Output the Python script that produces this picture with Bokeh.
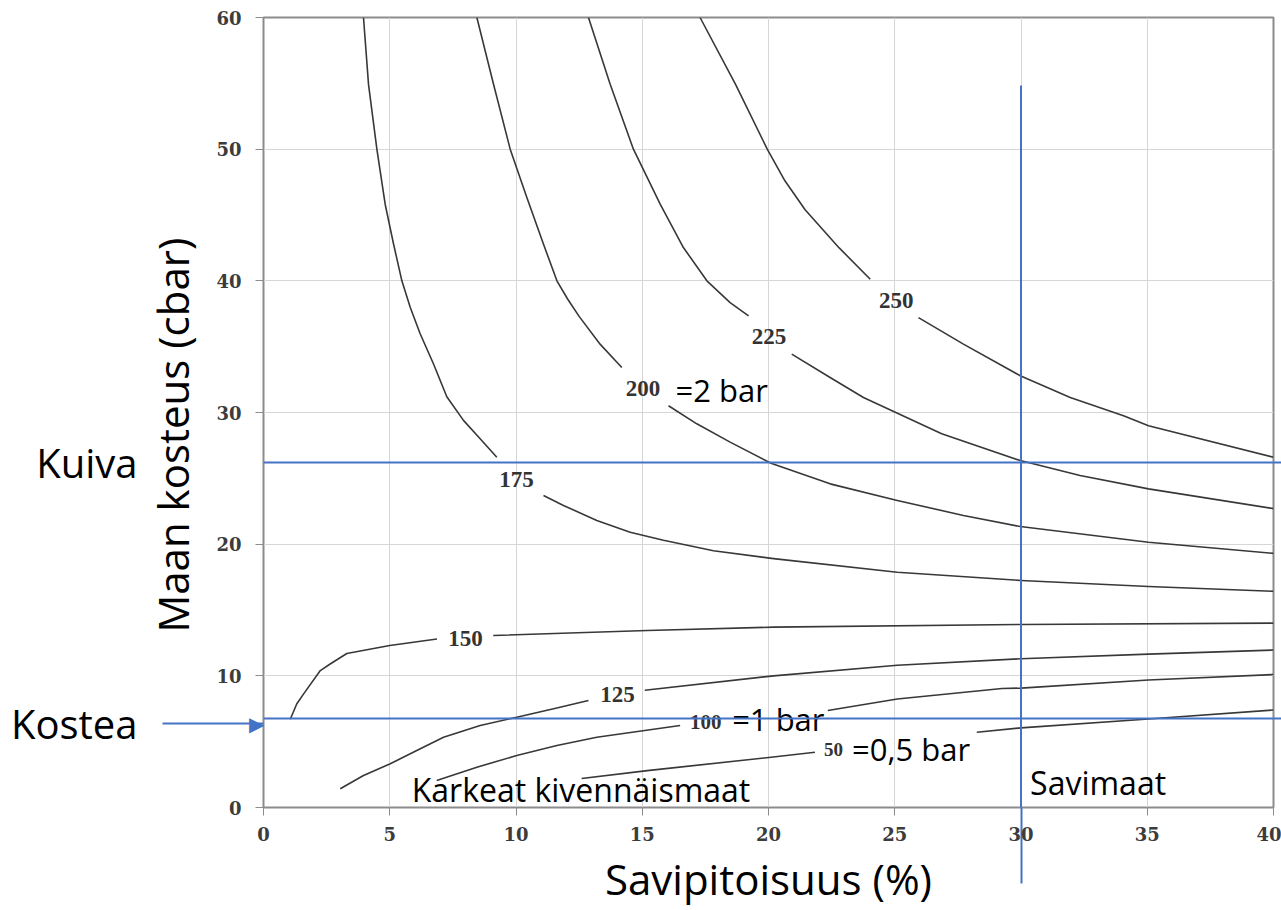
import math
from bokeh.plotting import figure
from bokeh.models import (Range1d, FixedTicker, Label, Arrow, ColumnDataSource,
                          Span, Title, LinearAxis)
from bokeh.core.properties import value
from bokeh.embed import file_html
from bokeh.resources import INLINE

NAN = float("nan")

# ---------------- data ----------------
x_ticks = [0, 5, 10, 15, 20, 25, 30, 35, 40]
y_ticks = [0, 10, 20, 30, 40, 50, 60]

# contour curves (NaN = gap where the level label sits)
c250_x = [17.29, 18.7, 19.95, 20.65, 21.45, 22.8, 24.03, NAN,
          25.94, 27.72, 29.97, 31.95, 34.06, 35.05, 40.0]
c250_y = [60.0, 54.9, 50.0, 47.6, 45.4, 42.5, 40.12, NAN,
          37.21, 35.19, 32.79, 31.14, 29.75, 29.0, 26.6]

c225_x = [12.87, 13.73, 14.65, 15.71, 16.63, 17.56, 18.48, 19.21, NAN,
          20.92, 22.44, 23.76, 26.86, 29.97, 32.34, 35.05, 40.0]
c225_y = [60.0, 54.93, 50.0, 45.82, 42.53, 40.0, 38.35, 37.34, NAN,
          34.43, 32.66, 31.14, 28.38, 26.35, 25.21, 24.2, 22.7]

c200_x = [8.45, 9.11, 9.77, 10.43, 11.09, 11.62, 12.05, 12.5, 13.33, 14.19, NAN,
          16.04, 17.16, 18.48, 20.1, 22.44, 25.1, 27.72, 29.97, 35.05, 40.0]
c200_y = [60.0, 54.93, 50.0, 46.33, 42.78, 40.0, 38.6, 37.3, 35.19, 33.42, NAN,
          30.51, 29.14, 27.75, 26.15, 24.58, 23.32, 22.18, 21.34, 20.15, 19.3]

c175_x = [3.96, 4.16, 4.49, 4.82, 5.15, 5.48, 5.81, 6.2, 6.73, 7.26, 7.92, 8.58, 9.24, NAN,
          11.09, 11.88, 13.2, 14.52, 15.84, 17.82, 20.2, 25.1, 30.0, 35.05, 40.0]
c175_y = [60.0, 54.9, 50.0, 45.8, 42.8, 40.0, 38.0, 36.0, 33.7, 31.2, 29.4, 28.0, 26.6, NAN,
          23.7, 22.94, 21.8, 20.9, 20.3, 19.5, 18.9, 17.87, 17.24, 16.78, 16.42]

c150_x = [1.06, 1.32, 1.59, 2.25, 2.64, 3.3, 5.0, 6.87, NAN, 9.1, 15.2, 20.2, 30.0, 40.0]
c150_y = [6.7, 7.88, 8.63, 10.4, 10.9, 11.7, 12.3, 12.8, NAN, 13.06, 13.44, 13.7, 13.9, 14.0]

c125_x = [3.04, 3.96, 5.02, 6.07, 7.13, 8.58, 10.03, 11.49, 12.87, NAN,
          15.1, 20.2, 25.1, 30.0, 35.05, 40.0]
c125_y = [1.42, 2.43, 3.32, 4.33, 5.34, 6.23, 6.86, 7.5, 8.13, NAN,
          8.9, 10.0, 10.8, 11.3, 11.65, 11.96]

c100_x = [6.86, 8.45, 10.03, 11.62, 13.2, 16.5, NAN, 22.35, 25.1, 29.25, 30.0, 35.05, 40.0]
c100_y = [2.05, 3.06, 3.95, 4.71, 5.34, 6.23, NAN, 7.37, 8.24, 9.04, 9.07, 9.68, 10.1]

c50_x = [12.6, 15.2, 20.1, 21.84, NAN, 28.25, 30.0, 35.05, 40.0]
c50_y = [2.2, 2.8, 3.82, 4.2, NAN, 5.72, 6.05, 6.72, 7.4]

levels = ["250", "225", "200", "175", "150", "125", "100", "50"]
level_x = [25.06, 20.02, 15.03, 10.02, 8.0, 14.02, 17.51, 22.57]
level_y = [38.48, 35.78, 31.8, 24.9, 12.86, 8.58, 6.48, 4.37]

kuiva_level = 26.2     # cbar
kostea_level = 6.76    # cbar
kostea_arrow = 6.35    # cbar
savi_limit = 30.0      # % clay
savi_top = 54.83

# ---------------- figure ----------------
BLUE = "#4472C4"
GRID = "#d6d6d6"
FRAME = "#8c8c8c"
CURVE = "#383838"
TICKLAB = "#3c3c3c"

p = figure(width=1281, height=910, output_backend="svg", toolbar_location=None,
           x_range=Range1d(0, 40), y_range=Range1d(0, 60),
           min_border_left=263, min_border_right=8, min_border_top=17, min_border_bottom=103)
p.background_fill_color = "white"
p.border_fill_color = "white"
p.outline_line_color = FRAME
p.outline_line_width = 2

# ---- x axis (blue marker below the frame drawn as a minor tick) ----
xax = p.xaxis[0]
xax.ticker = FixedTicker(ticks=x_ticks, minor_ticks=[savi_limit])
xax.major_tick_in = 0
xax.major_tick_out = 8
xax.major_tick_line_color = FRAME
xax.minor_tick_in = 0
xax.minor_tick_out = 76
xax.minor_tick_line_color = BLUE
xax.minor_tick_line_width = 2
xax.axis_line_color = FRAME
xax.major_label_text_font = "DejaVu Serif"
xax.major_label_text_font_style = "bold"
xax.major_label_text_font_size = "18px"
xax.major_label_text_color = TICKLAB
xax.major_label_standoff = 11 - (76 - 8)
xax.axis_label = "Savipitoisuus (%)"
xax.axis_label_text_font = "Open Sans"
xax.axis_label_text_font_size = "42px"
xax.axis_label_text_font_style = "normal"
xax.axis_label_text_color = "black"
xax.axis_label_standoff = 6

# ---- inner y axis: tick marks, Kostea arrow shaft (minor tick) and arrow head ----
yax = p.yaxis[0]
yax.ticker = FixedTicker(ticks=y_ticks + [kostea_arrow], minor_ticks=[kostea_arrow])
overrides = {t: "" for t in y_ticks}
overrides[kostea_arrow] = "\u25B6"
yax.major_label_overrides = overrides
yax.major_tick_in = 0
yax.major_tick_out = 8
yax.major_tick_line_color = FRAME
yax.minor_tick_in = 0
yax.minor_tick_out = 101
yax.minor_tick_line_color = BLUE
yax.minor_tick_line_width = 2
yax.axis_line_color = FRAME
yax.major_label_text_font = "DejaVu Sans"
yax.major_label_text_font_size = "20px"
yax.major_label_text_color = BLUE
yax.major_label_standoff = -102

# ---- y tick labels ----
ylab_axis = LinearAxis(ticker=FixedTicker(ticks=y_ticks), axis_line_color=None,
                       major_tick_line_color=None, minor_tick_line_color=None,
                       major_tick_out=0, major_tick_in=0, major_label_standoff=5,
                       major_label_text_font="DejaVu Serif", major_label_text_font_style="bold",
                       major_label_text_font_size="18px", major_label_text_color=TICKLAB)
p.add_layout(ylab_axis, "left")

p.add_layout(Title(text="Maan kosteus (cbar)", align="left", offset=175, standoff=25,
                   text_font="Open Sans", text_font_size="42px", text_font_style="normal",
                   text_color="black"), "left")

side_axis = LinearAxis(ticker=FixedTicker(ticks=[kostea_arrow, kuiva_level]),
                       major_label_overrides={kostea_arrow: "Kostea", kuiva_level: "Kuiva"},
                       axis_line_color=None, major_tick_line_color=None,
                       minor_tick_line_color=None, major_tick_out=0, major_tick_in=0,
                       major_label_standoff=-8, major_label_text_font="Open Sans",
                       major_label_text_font_size="40px", major_label_text_color="black")
p.add_layout(side_axis, "left")

right_axis = LinearAxis(ticker=FixedTicker(ticks=[], minor_ticks=[kostea_level, kuiva_level]),
                        axis_line_color=None, major_tick_line_color=None,
                        major_tick_out=0, major_tick_in=0, major_label_standoff=0,
                        minor_tick_in=0, minor_tick_out=8, minor_tick_line_color=BLUE,
                        minor_tick_line_width=2, major_label_text_font_size="1px")
p.add_layout(right_axis, "right")

p.xgrid.ticker = FixedTicker(ticks=x_ticks)
p.ygrid.ticker = FixedTicker(ticks=y_ticks)
p.xgrid.grid_line_color = GRID
p.ygrid.grid_line_color = GRID

for xs, ys in ((c250_x, c250_y), (c225_x, c225_y), (c200_x, c200_y), (c175_x, c175_y),
               (c150_x, c150_y), (c125_x, c125_y), (c100_x, c100_y), (c50_x, c50_y)):
    p.line(xs, ys, line_color=CURVE, line_width=1.6, line_join="round")

lab_src = ColumnDataSource(dict(x=level_x, y=level_y, t=levels,
                                s=["23px"] * 6 + ["21px", "19px"]))
p.text(x="x", y="y", text="t", source=lab_src, text_font=value("Liberation Serif"),
       text_font_size="s", text_font_style="bold", text_color="#333333",
       text_align="center", text_baseline="middle")

def lab(text, x, y, size):
    p.add_layout(Label(x=x, y=y, text=text, text_font="Open Sans", text_font_size=size,
                       text_color="black", text_baseline="middle", text_align="left"))

lab("=2 bar", 16.32, 31.69, "31px")
lab("=1 bar", 18.56, 6.72, "31px")
lab("=0,5 bar", 23.31, 4.48, "31px")
lab("Karkeat kivennäismaat", 5.87, 1.34, "32px")
lab("Savimaat", 30.36, 1.91, "32px")

# blue marker lines
p.add_layout(Span(location=kuiva_level, dimension="width", line_color=BLUE, line_width=2))
p.add_layout(Span(location=kostea_level, dimension="width", line_color=BLUE, line_width=2))
p.add_layout(Arrow(end=None, x_start=savi_limit, y_start=savi_top, x_end=savi_limit, y_end=0,
                   line_color=BLUE, line_width=2))

open("out.html", "w").write(file_html(p, INLINE))
